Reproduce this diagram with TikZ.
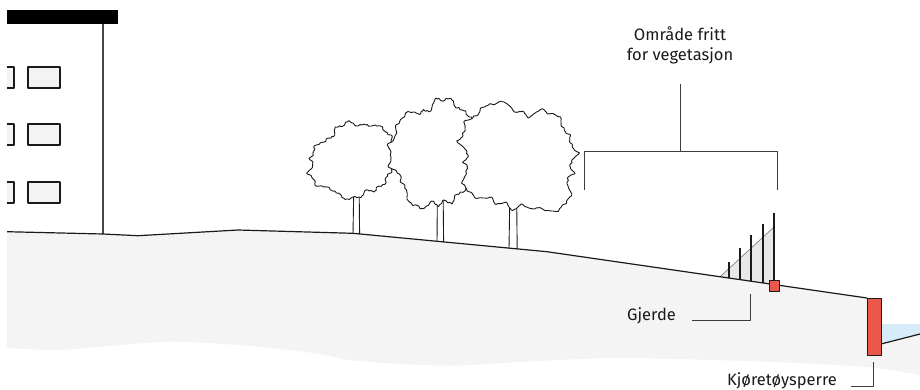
\documentclass[tikz,border=0pt]{standalone}
\usepackage{fontspec}
\setmainfont{Fira Sans}
\begin{document}
\definecolor{soil}{RGB}{244,244,244}
\definecolor{winfill}{RGB}{243,243,243}
\definecolor{barrier}{RGB}{233,88,72}
\definecolor{water}{RGB}{214,236,250}
\definecolor{fencefill}{RGB}{232,232,232}
\definecolor{ink}{RGB}{26,26,26}
\begin{tikzpicture}[x=1pt,y=-1pt,
  line join=round,
  declare function={tf(\t,\p)=1+0.08*sin(2*\t+\p)+0.06*sin(4*\t+2*\p)+0.05*sin(7*\t+3*\p)
     -0.08*abs(sin(9*\t+\p))*(1+0.5*sin(4*\t+\p))-0.03*abs(sin(19*\t+2*\p))-0.012*abs(sin(37*\t));},
  groundline/.style={draw=ink,line width=1.2pt},
  wall/.style={draw=ink!80,line width=1.3pt},
  window/.style={draw=ink,fill=winfill,line width=1.1pt},
  treeline/.style={draw=ink,fill=white,line width=0.9pt},
  trunk/.style={draw=ink,line width=0.9pt},
  post/.style={draw=ink,line width=1.2pt},
  redblock/.style={draw=ink,fill=barrier,line width=0.9pt},
  leader/.style={draw=ink!85,line width=1pt},
  lbl/.style={font=\fontsize{16.5}{20}\selectfont,text=ink,inner sep=0pt}]
\useasboundingbox (0,0) rectangle (920,389);

\newcommand\treecrown[5]{%
  \draw[treeline] plot[smooth cycle,samples=300,domain=0:358.8,variable=\t]
    ({#1+#3*tf(\t,#5)*cos(\t)},{#2-#4*tf(\t,#5)*sin(\t)});}

\begin{scope}
\clip (7,0) rectangle (920,389);
% soil body
\fill[soil] (7,231.7) -- (103,234) -- (138,235.7) -- (238,230) -- (353,233.3)
  -- (547,251.7) -- (881,300) -- (881,344) -- (920,334)
  -- plot[smooth] coordinates {(920,375) (867,367) (773,362) (673,359) (607,358)
    (520,362) (460,365.5) (400,364) (350,360) (313,353) (250,346) (173,341.7)
    (110,346) (57,350) (7,348)} -- cycle;
% water beyond the barrier
\fill[water] (881,324) -- (920,324) -- (920,334) -- (881,344) -- cycle;
\draw[groundline] (881,344) -- (920,334);

% building
\fill[black] (0,10) rectangle (118,24);
\draw[wall] (103,24) -- (103,234);
\foreach \wy in {67,124,182}{
  \draw[window] (-10,\wy) rectangle (14,\wy+21);
  \draw[window] (28,\wy) rectangle (60,\wy+21);
}

% trees, back to front
\draw[trunk] (354,175) -- (353,233.6);
\draw[trunk] (359,175) -- (359.6,234);
\treecrown{355}{160}{46}{40}{20}
\draw[trunk] (437.5,180) -- (437,241.8);
\draw[trunk] (443,180) -- (443.6,242.4);
\treecrown{437}{154}{46}{60}{75}
\draw[trunk] (510,185) -- (509,248.4);
\draw[trunk] (516.5,185) -- (517.2,249.2);
\treecrown{518}{158}{60}{60}{140}

% fence
\fill[fencefill] (720,276.8) -- (774,227) -- (774,284.5) -- cycle;
\draw[draw=ink!55,line width=0.7pt] (720,276.8) -- (774,227);
\draw[post] (729,262) -- (729,278.1);
\draw[post] (740,248) -- (740,279.7);
\draw[post] (751,235) -- (751,281.3);
\draw[post] (763,224) -- (763,283);
\draw[post] (774,213) -- (774,281);

% ground surface
\draw[groundline] (7,231.7) -- (103,234) -- (138,235.7) -- (238,230) -- (353,233.3)
  -- (547,251.7) -- (867,298);

% fence foot and vehicle barrier
\draw[redblock] (769,280) rectangle (779,291);
\draw[redblock] (867,298) rectangle (881,355);
\end{scope}

% labels
\node[lbl,anchor=base] (t1) at (680,40) {Område fritt};
\node[lbl,anchor=base] (t2) at (680,60) {for vegetasjon};
\coordinate (bTop) at (680,84);
\coordinate (bMid) at (680,151.7);
\coordinate (bL) at (584,190);
\coordinate (bR) at (777,190);
\draw[leader] (bTop) -- (bMid);
\draw[leader] (bL) |- (bMid) -| (bR);

\node[lbl,anchor=base west] (gj) at (627,320) {Gjerde};
\coordinate (gjA) at (692,320);
\coordinate (gjB) at (750,294);
\draw[leader] (gjA) -| (gjB);

\node[lbl,anchor=base west] (kj) at (727,385.5) {Kjøretøysperre};
\coordinate (kjA) at (851,386);
\coordinate (kjB) at (873,362);
\draw[leader] (kjA) -| (kjB);
\end{tikzpicture}
\end{document}
